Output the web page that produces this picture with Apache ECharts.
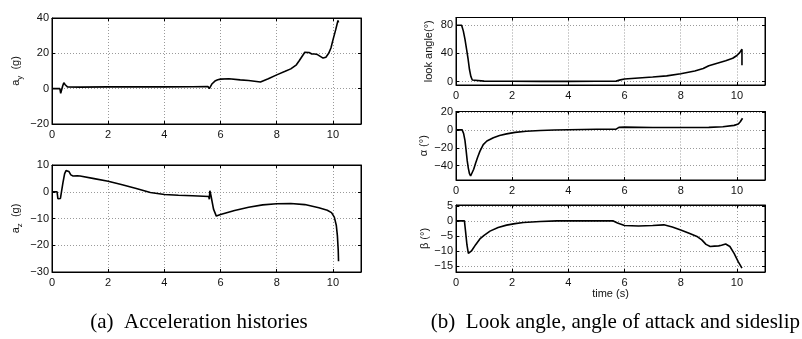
<!DOCTYPE html>
<html>
<head>
<meta charset="utf-8">
<script src="https://cdn.jsdelivr.net/npm/echarts@6/dist/echarts.min.js"></script>
<style>
  html, body { margin: 0; padding: 0; background: #fff; }
  #chart { width: 802px; height: 339px; }
</style>
</head>
<body>
<div id="chart"></div>
<script>
// tick labels
const timeTicks = [0, 2, 4, 6, 8, 10];
const ayTicks = [-20, 0, 20, 40];
const azTicks = [-30, -20, -10, 0, 10];
const lookTicks = [0, 40, 80];
const alphaTicks = [-40, -20, 0, 20];
const betaTicks = [-15, -10, -5, 0, 5];

// series values, [time (s), value]
const ayData = [
  [0, 0], [0.28, 0], [0.31, -2.6], [0.34, -2], [0.38, 1.5], [0.42, 3.4], [0.47, 2.2], [0.55, 1],
  [1, 0.9], [2, 1], [3, 1], [4, 1], [5, 1.1], [5.55, 1.2], [5.6, 0], [5.64, 1], [5.7, 2.8],
  [5.8, 4.3], [5.9, 5], [6.0, 5.4], [6.3, 5.6], [6.7, 5], [7.0, 4.6], [7.42, 3.8], [7.7, 5.6],
  [8.0, 7.8], [8.3, 9.8], [8.5, 11.2], [8.7, 13.5], [8.8, 15.8], [8.9, 18.2], [9.0, 20.6],
  [9.07, 21.2], [9.15, 20.5], [9.25, 19.6], [9.35, 19.6], [9.45, 19.3], [9.55, 18.3],
  [9.65, 17.3], [9.75, 17.8], [9.85, 20], [9.93, 23], [10.0, 27.5], [10.1, 33.4],
  [10.18, 38.6], [10.2, 37.5]
];
const azData = [
  [0, 0], [0.18, 0], [0.21, -2.6], [0.3, -2.5], [0.34, -1.8], [0.39, 3.4], [0.45, 6.8],
  [0.5, 7.9], [0.55, 8.1], [0.6, 7.6], [0.67, 6.3], [0.75, 5.9], [0.9, 6], [1.0, 5.9],
  [1.5, 4.9], [2.0, 3.9], [2.5, 2.6], [3.0, 1.2], [3.5, -0.3], [4.0, -1.0], [4.5, -1.3],
  [5.0, -1.5], [5.58, -1.8], [5.6, -2.8], [5.62, 0.4], [5.66, -1.5], [5.75, -6.5],
  [5.85, -9.1], [6.0, -8.5], [6.5, -7], [7.0, -5.8], [7.5, -4.9], [8.0, -4.5], [8.5, -4.4],
  [9.0, -4.8], [9.5, -6.0], [9.8, -6.9], [9.95, -7.8], [10.05, -9.5], [10.12, -12.5],
  [10.16, -16.5], [10.19, -22], [10.2, -26]
];
const lookData = [
  [0, 80], [0.2, 80], [0.26, 72], [0.32, 60], [0.38, 45], [0.43, 32], [0.48, 17], [0.53, 7],
  [0.58, 2], [0.65, 0.5], [1, 0.5], [2, 0.3], [3, 0.2], [4, 0.2], [5, 0.3], [5.7, 0.5],
  [5.85, 2.3], [6.0, 3.5], [6.5, 5], [7.0, 6.4], [7.5, 8], [8.0, 11], [8.5, 15], [8.8, 18.5],
  [9.0, 22.5], [9.3, 26], [9.6, 29.5], [9.85, 33], [10.0, 37], [10.1, 41], [10.18, 46],
  [10.18, 23]
];
const alphaData = [
  [0, 0], [0.22, 0], [0.27, -4], [0.32, -12], [0.36, -23], [0.4, -34.7], [0.44, -43],
  [0.48, -49], [0.52, -51.5], [0.57, -49.5], [0.63, -44], [0.7, -37], [0.77, -30.5],
  [0.85, -24], [0.97, -16.5], [1.1, -12.5], [1.33, -8.8], [1.55, -6.3], [1.8, -4.5],
  [2.1, -2.8], [2.5, -1.6], [3.0, -0.8], [3.5, -0.2], [4.0, 0.2], [5.0, 0.6], [5.7, 0.8],
  [5.8, 2.8], [6.0, 3], [7, 2.7], [8, 2.6], [9, 2.8], [9.5, 3.5], [9.9, 5], [10.05, 6.5],
  [10.12, 9], [10.2, 13]
];
const betaData = [
  [0, 0], [0.3, 0], [0.34, -3.5], [0.39, -8], [0.44, -10.8], [0.47, -11.1], [0.55, -10],
  [0.7, -7.9], [0.85, -6], [1.0, -4.8], [1.21, -3.4], [1.5, -2.2], [1.8, -1.4], [2.1, -0.9],
  [2.4, -0.55], [3.0, -0.2], [3.6, 0], [5.6, 0], [5.75, -0.7], [6.0, -1.5], [6.5, -1.7],
  [7.0, -1.5], [7.4, -1.3], [7.7, -2], [8.0, -3.0], [8.3, -4.1], [8.6, -5.3], [8.75, -6.3],
  [8.9, -7.8], [9.05, -8.5], [9.2, -8.4], [9.35, -8.3], [9.45, -8.1], [9.6, -7.7],
  [9.75, -8.5], [9.9, -10.8], [10.05, -13.6], [10.18, -15.7]
];

const fmt = v => String(v).replace('-', '\u2212');
const tickFont = { fontFamily: 'Liberation Sans', fontSize: 11, color: '#111' };
const nameRich = {
  m: { fontFamily: 'Liberation Sans', fontSize: 11, color: '#111', lineHeight: 16 },
  s: { fontFamily: 'Liberation Sans', fontSize: 8, color: '#111', lineHeight: 8, verticalAlign: 'bottom' }
};
const captionFont = { fontFamily: 'Liberation Serif', fontSize: 21, fontWeight: 'normal', color: '#000' };

const panels = [
  { grid: { left: 52, top: 18, width: 309, height: 106 }, data: ayData, min: -20, max: 40, ticks: ayTicks, name: '{m|a}{s|y}{m|  (g)}', gap: 28 },
  { grid: { left: 52, top: 165, width: 309, height: 107 }, data: azData, min: -30, max: 10, ticks: azTicks, name: '{m|a}{s|z}{m|  (g)}', gap: 28 },
  { grid: { left: 456, top: 17.5, width: 309, height: 67.5 }, data: lookData, min: -5, max: 91, ticks: lookTicks, name: '{m|look angle(°)}', gap: 19 },
  { grid: { left: 456, top: 111.5, width: 309, height: 68.5 }, data: alphaData, min: -56, max: 20.5, ticks: alphaTicks, name: '{m|α (°)}', gap: 24 },
  { grid: { left: 456, top: 205, width: 309, height: 67 }, data: betaData, min: -17, max: 5.3, ticks: betaTicks, name: '{m|β (°)}', gap: 22, xName: 'time (s)' }
];

const grids = [], xAxes = [], yAxes = [], series = [];
panels.forEach((p, i) => {
  grids.push(Object.assign({ show: true, borderColor: '#000', borderWidth: 1, containLabel: false }, p.grid));
  const tick = (vals) => ({ show: true, inside: true, length: 3, customValues: vals, lineStyle: { color: '#000' } });
  const split = { show: true, lineStyle: { color: '#9a9a9a', type: [1, 2], width: 1 } };
  xAxes.push({
    type: 'value', gridIndex: i, min: 0, max: 11, position: 'bottom',
    axisLine: { onZero: false, lineStyle: { color: '#000' } },
    axisTick: tick(timeTicks), splitLine: split,
    axisLabel: Object.assign({ customValues: timeTicks, margin: 5, formatter: fmt }, tickFont),
    name: p.xName || '', nameLocation: 'middle', nameGap: 15,
    nameTextStyle: { fontFamily: 'Liberation Sans', fontSize: 11, color: '#111' }
  });
  xAxes.push({
    type: 'value', gridIndex: i, min: 0, max: 11, position: 'top',
    axisLine: { onZero: false, lineStyle: { color: '#000' } },
    axisTick: tick(timeTicks), splitLine: { show: false }, axisLabel: { show: false }
  });
  yAxes.push({
    type: 'value', gridIndex: i, min: p.min, max: p.max, position: 'left',
    axisLine: { onZero: false, show: true, lineStyle: { color: '#000' } },
    axisTick: tick(p.ticks), splitLine: split,
    axisLabel: Object.assign({ customValues: p.ticks, margin: 3, formatter: fmt }, tickFont),
    name: p.name, nameLocation: 'middle', nameGap: p.gap, nameRotate: 90,
    nameTextStyle: { rich: nameRich }
  });
  yAxes.push({
    type: 'value', gridIndex: i, min: p.min, max: p.max, position: 'right',
    axisLine: { onZero: false, show: true, lineStyle: { color: '#000' } },
    axisTick: tick(p.ticks), splitLine: { show: false }, axisLabel: { show: false }
  });
  series.push({
    type: 'line', xAxisIndex: i * 2, yAxisIndex: i * 2, data: p.data,
    showSymbol: false, symbol: 'none', silent: true, animation: false,
    lineStyle: { color: '#000', width: 1.6 }, clip: true
  });
});

const chart = echarts.init(document.getElementById('chart'), null, { renderer: 'canvas' });
chart.setOption({
  animation: false,
  backgroundColor: '#fff',
  title: [
    { text: '(a)  Acceleration histories', left: 199, top: 312, padding: 0, textAlign: 'center', textStyle: captionFont },
    { text: '(b)  Look angle, angle of attack and sideslip', right: 2, top: 312, padding: 0, textStyle: captionFont }
  ],
  grid: grids,
  xAxis: xAxes,
  yAxis: yAxes,
  series: series
});
</script>
</body>
</html>
